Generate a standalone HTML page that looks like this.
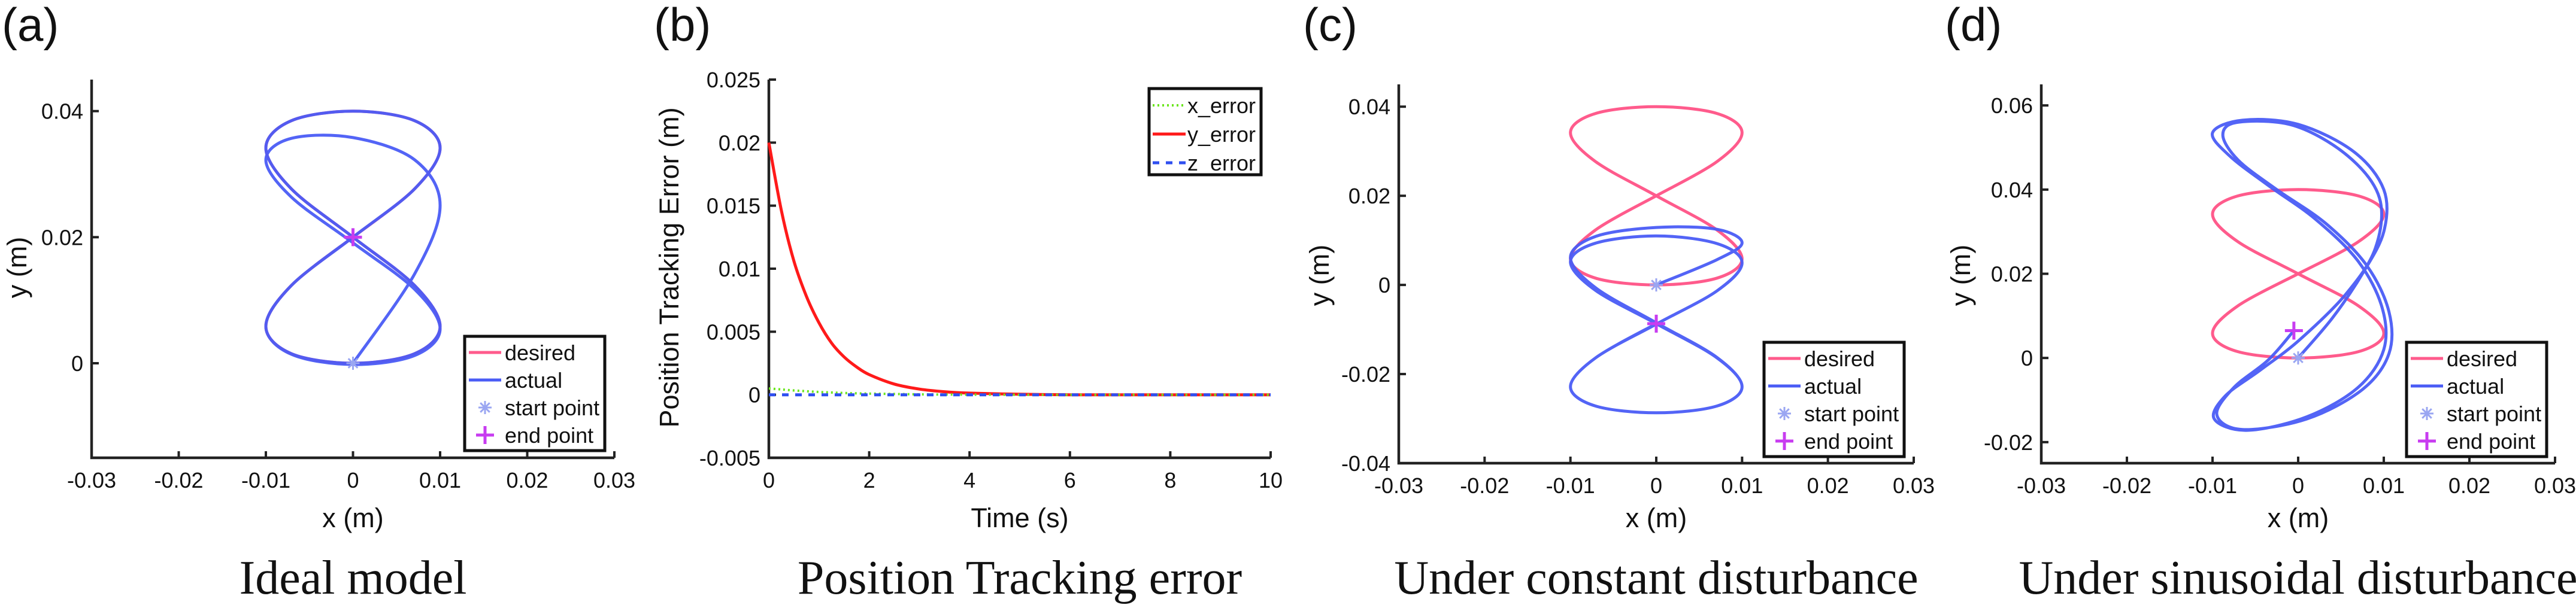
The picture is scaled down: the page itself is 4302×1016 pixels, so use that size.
<!DOCTYPE html>
<html><head><meta charset="utf-8">
<style>
html,body{margin:0;padding:0;background:#fff;}
svg{display:block;}
text{font-family:"Liberation Sans",sans-serif;fill:#111;}
.ttl{font-family:"Liberation Serif",serif;}
</style></head>
<body>
<svg id="fig" width="4302" height="1016" viewBox="0 0 4302 1016" xmlns="http://www.w3.org/2000/svg"></svg>
<script>
// ---- data ----
// desired figure-eight, one loop (starts at crossing, heading up-right)
const desX = [0, 0.00707, 0.01, 0.00707, 0, -0.00707, -0.01, -0.00707, 0, 0.00707, 0.01, 0.00707, 0, -0.00707, -0.01, -0.00707, 0];
const desY = [0.02, 0.02766, 0.03414, 0.03848, 0.04, 0.03848, 0.03414, 0.02766, 0.02, 0.01234, 0.00586, 0.00152, 0, 0.00152, 0.00586, 0.01234, 0.02];
// actual y offsets from desired over two loops (ideal model)
const aOffY = [-0.02,-0.0135,-0.0091,-0.0062,-0.0042,-0.0028,-0.0019,-0.0013,-0.0009,-0.0006,-0.0004,-0.0003,-0.0002,-0.0001,0,0,0,0,0,0,0,0,0,0,0,0,0,0,0,0,0,0,0];
// actual y offsets under constant disturbance
const cOffY = [-0.02,-0.022,-0.0247,-0.026,-0.0271,-0.0276,-0.028,-0.0283,-0.0285,-0.0286,-0.0287,-0.0287,-0.0287,-0.0287,-0.0287,-0.0287,-0.0288,-0.029,-0.0292,-0.0292,-0.029,-0.0291,-0.029,-0.0289,-0.0287,-0.0287,-0.0287,-0.0287,-0.0287,-0.0287,-0.0287,-0.0287,-0.0287];
// actual path under sinusoidal disturbance
const dActX = [0,0.004,0.0075,0.0100,0.0100,0.0065,0.000,-0.0065,-0.0100,-0.0080,-0.0035,0.0020,0.0070,0.0098,0.0100,0.0070,0.0010,-0.0060,-0.0098,-0.0085,-0.0045,0.0000,0.0055,0.0090,0.0095,0.0058,-0.0005,-0.0070,-0.0088,-0.0070,-0.0025,0.0032,0.0080,0.0106,0.0106,0.0075,0.0010,-0.0065,-0.0095,-0.0075,-0.0035,-0.0005];
const dActY = [0,0.0095,0.020,0.030,0.040,0.049,0.0555,0.0565,0.0535,0.0480,0.0410,0.0330,0.0230,0.0120,0.0020,-0.0070,-0.0140,-0.0172,-0.0145,-0.0090,-0.0030,0.0040,0.0150,0.0260,0.0380,0.0480,0.0552,0.0560,0.0530,0.0470,0.0400,0.0320,0.0220,0.0110,0.0010,-0.0075,-0.0145,-0.0170,-0.0135,-0.0070,-0.0005,0.0065];
// tracking error
const errT = [0,0.25,0.5,0.75,1,1.25,1.5,1.75,2,2.5,3,3.5,4,5,6,7,8,9,10];
const errY = [0.02,0.0146,0.0106,0.0078,0.0057,0.0041,0.0030,0.0022,0.0016,0.00085,0.00045,0.00024,0.00013,0.00004,0,0,0,0,0];
const errX = [0.0005,0.00042,0.00034,0.00028,0.00022,0.00018,0.00014,0.00011,0.00009,0.00006,0.00003,0.00002,0.00001,0,0,0,0,0,0];
const errZ = [0,0,0,0,0,0,0,0,0,0,0,0,0,0,0,0,0,0,0];
const xTicksTraj = [-0.03,-0.02,-0.01,0,0.01,0.02,0.03];
const xTickLabelsTraj = ["-0.03","-0.02","-0.01","0","0.01","0.02","0.03"];
const yTicksA = [0,0.02,0.04]; const yTickLabelsA = ["0","0.02","0.04"];
const yTicksB = [-0.005,0,0.005,0.01,0.015,0.02,0.025]; const yTickLabelsB = ["-0.005","0","0.005","0.01","0.015","0.02","0.025"];
const xTicksB = [0,2,4,6,8,10]; const xTickLabelsB = ["0","2","4","6","8","10"];
const yTicksC = [-0.04,-0.02,0,0.02,0.04]; const yTickLabelsC = ["-0.04","-0.02","0","0.02","0.04"];
const yTicksD = [-0.02,0,0.02,0.04,0.06]; const yTickLabelsD = ["-0.02","0","0.02","0.04","0.06"];

const PINK="#ff5b8c", BLUE="#4a5cf5", STARTC="#9aa6f2", ENDC="#c83cf0";
const NS="http://www.w3.org/2000/svg";
const svg=document.getElementById('fig');
function mk(tag, attrs, parent){const e=document.createElementNS(NS,tag);for(const k in attrs)e.setAttribute(k,attrs[k]);(parent||svg).appendChild(e);return e;}
function txt(s, attrs, parent){const e=mk('text',attrs,parent);e.textContent=s;return e;}
function smooth(pts){
  let d='M'+pts[0][0].toFixed(1)+' '+pts[0][1].toFixed(1);
  for(let i=0;i<pts.length-1;i++){
    const p0=pts[Math.max(0,i-1)],p1=pts[i],p2=pts[i+1],p3=pts[Math.min(pts.length-1,i+2)];
    const c1=[p1[0]+(p2[0]-p0[0])/6,p1[1]+(p2[1]-p0[1])/6];
    const c2=[p2[0]-(p3[0]-p1[0])/6,p2[1]-(p3[1]-p1[1])/6];
    d+=' C'+c1[0].toFixed(1)+' '+c1[1].toFixed(1)+' '+c2[0].toFixed(1)+' '+c2[1].toFixed(1)+' '+p2[0].toFixed(1)+' '+p2[1].toFixed(1);
  }
  return d;
}
function axes(g, c){
  const sx=v=>c.L+(v-c.x0)/(c.x1-c.x0)*(c.R-c.L);
  const sy=v=>c.B-(v-c.y0)/(c.y1-c.y0)*(c.B-c.T);
  const ax=mk('path',{d:`M${c.L} ${c.T} V${c.B} H${c.R}`,fill:'none',stroke:'#222','stroke-width':4.5},g);
   
  c.xt.forEach((v,i)=>{
    const x=sx(v);
    if(i>0) mk('line',{x1:x,y1:c.B,x2:x,y2:c.B-11,stroke:'#222','stroke-width':4},g);
    const t=txt(c.xl[i],{x:x,y:c.B+50,'font-size':36,'text-anchor':'middle'},g);
     
  });
  c.yt.forEach((v,i)=>{
    const y=sy(v);
    if(Math.abs(y-c.B)>2) mk('line',{x1:c.L,y1:y,x2:c.L+12,y2:y,stroke:'#222','stroke-width':4},g);
    const t=txt(c.yl[i],{x:c.L-14,y:y+13,'font-size':36,'text-anchor':'end'},g);
     
  });
  const xl=txt(c.xlab,{x:(c.L+c.R)/2,y:881,'font-size':45,'text-anchor':'middle'},g);
   
  const yl=txt(c.ylab,{x:0,y:0,'font-size':45,'text-anchor':'middle',transform:`translate(${c.ylx+16},${c.yly}) rotate(-90)`},g);
   
  const pl=txt(c.plab,{x:c.plx,y:68,'font-size':78},g);
   
  const tt=txt(c.title,{x:(c.L+c.R)/2,y:992,'font-size':80,'text-anchor':'middle','class':'ttl'},g);
   
  return {sx,sy};
}
function asterisk(g,x,y){
  const a=mk('g',{stroke:STARTC,'stroke-width':3},g);
  for(let k=0;k<4;k++){const an=k*Math.PI/4;mk('line',{x1:x-11*Math.cos(an),y1:y-11*Math.sin(an),x2:x+11*Math.cos(an),y2:y+11*Math.sin(an)},a);}
  return a;
}
function plus(g,x,y){
  const p=mk('path',{d:`M${x-15} ${y} H${x+15} M${x} ${y-15} V${y+15}`,stroke:ENDC,'stroke-width':5},g);
  return p;
}
function trajLegend(g, bx, by){
  const w=234,h=191;
  const box=mk('rect',{x:bx,y:by,width:w,height:h,fill:'#fff',stroke:'#111','stroke-width':5},g);
   
  const rows=[['desired','line',PINK],['actual','line',BLUE],['start point','star'],['end point','plus']];
  rows.forEach((r,i)=>{
    const y=by+27+i*46;
    const e=mk('g',{},g);
     
    if(r[1]==='line') mk('line',{x1:bx+7,y1:y,x2:bx+61,y2:y,stroke:r[2],'stroke-width':5},e);
    else if(r[1]==='star') asterisk(e,bx+34,y);
    else plus(e,bx+34,y);
    txt(r[0],{x:bx+67,y:y+13,'font-size':36},e);
  });
}
function trajPanel(name, c, desXs, desYs, actXs, actYs, start, end, leg){
  const g=mk('g',{});  
  const {sx,sy}=axes(g,c);
  const dp=[]; for(let i=0;i<desXs.length;i++) dp.push([sx(desXs[i]),sy(desYs[i])]);
  const d=mk('path',{d:smooth(dp),fill:'none',stroke:PINK,'stroke-width':5},g);
   
  const ap=[]; for(let i=0;i<actXs.length;i++) ap.push([sx(actXs[i]),sy(actYs[i])]);
  const a=mk('path',{d:smooth(ap),fill:'none',stroke:BLUE,'stroke-width':5,'stroke-opacity':0.95},g);
   
  const s=asterisk(g,sx(start[0]),sy(start[1]));
   
  const e=plus(g,sx(end[0]),sy(end[1]));
   
  trajLegend(g,leg[0],leg[1]);
}
// two-loop desired, actual from offsets
const des2X=desX.concat(desX.slice(1)), des2Y=desY.concat(desY.slice(1));
const actAX=des2X.slice(), actAY=des2Y.map((v,i)=>v+aOffY[i]);
const actCX=des2X.slice(), actCY=des2Y.map((v,i)=>v+cOffY[i]);

trajPanel('panel-a-ideal-model',{L:153,R:1026,T:133,B:765,x0:-0.03,x1:0.03,y0:-0.015,y1:0.045,xt:xTicksTraj,xl:xTickLabelsTraj,yt:yTicksA,yl:yTickLabelsA,xlab:'x (m)',ylab:'y (m)',ylx:28,yly:447,plab:'(a)',plx:3,title:'Ideal model'},
  desX,desY,actAX,actAY,[actAX[0],actAY[0]],[actAX[actAX.length-1],actAY[actAY.length-1]],[776,562]);
trajPanel('panel-c-constant-disturbance',{L:2336,R:3196,T:141,B:774,x0:-0.03,x1:0.03,y0:-0.04,y1:0.045,xt:xTicksTraj,xl:xTickLabelsTraj,yt:yTicksC,yl:yTickLabelsC,xlab:'x (m)',ylab:'y (m)',ylx:2203,yly:460,plab:'(c)',plx:2176,title:'Under constant disturbance'},
  desX,desY,actCX,actCY,[actCX[0],actCY[0]],[actCX[actCX.length-1],actCY[actCY.length-1]],[2946,572]);
trajPanel('panel-d-sinusoidal-disturbance',{L:3409,R:4267,T:141,B:774,x0:-0.03,x1:0.03,y0:-0.025,y1:0.065,xt:xTicksTraj,xl:xTickLabelsTraj,yt:yTicksD,yl:yTickLabelsD,xlab:'x (m)',ylab:'y (m)',ylx:3274,yly:460,plab:'(d)',plx:3248,title:'Under sinusoidal disturbance'},
  desX,desY,dActX,dActY,[dActX[0],dActY[0]],[dActX[dActX.length-1],dActY[dActY.length-1]],[4019,572]);

// panel b
(function(){
  const g=mk('g',{});  
  const c={L:1284,R:2122,T:133,B:765,x0:0,x1:10,y0:-0.005,y1:0.025,xt:xTicksB,xl:xTickLabelsB,yt:yTicksB,yl:yTickLabelsB,xlab:'Time (s)',ylab:'Position Tracking Error (m)',ylx:1117,yly:447,plab:'(b)',plx:1092,title:'Position Tracking error'};
  const {sx,sy}=axes(g,c);
  function series(vals,attrs,name){
    const p=[];for(let i=0;i<errT.length;i++)p.push([sx(errT[i]),sy(vals[i])]);
    const e=mk('path',Object.assign({d:smooth(p),fill:'none'},attrs),g);
    
    
  }
  series(errY,{stroke:'#ff1a1a','stroke-width':5},'y-error-line');
  series(errX,{stroke:'#6be61e','stroke-width':4,'stroke-dasharray':'3 5'},'x-error-line');
  series(errZ,{stroke:'#2f4ff0','stroke-width':5,'stroke-dasharray':'11 11'},'z-error-line');
  const bx=1919,by=148;
  const box=mk('rect',{x:bx,y:by,width:187,height:144,fill:'#fff',stroke:'#111','stroke-width':5},g);
   
  const rows=[['x_error','#6be61e','3 5',4],['y_error','#ff1a1a','',5],['z_error','#2f4ff0','11 11',5]];
  rows.forEach((r,i)=>{
    const y=by+28+i*48;
    const e=mk('g',{},g);
     
    const ln=mk('line',{x1:bx+6,y1:y,x2:bx+61,y2:y,stroke:r[1],'stroke-width':r[3]},e);
    if(r[2]) ln.setAttribute('stroke-dasharray',r[2]);
    txt(r[0],{x:bx+64,y:y+13,'font-size':36},e);
  });
})();
</script>
</body></html>
